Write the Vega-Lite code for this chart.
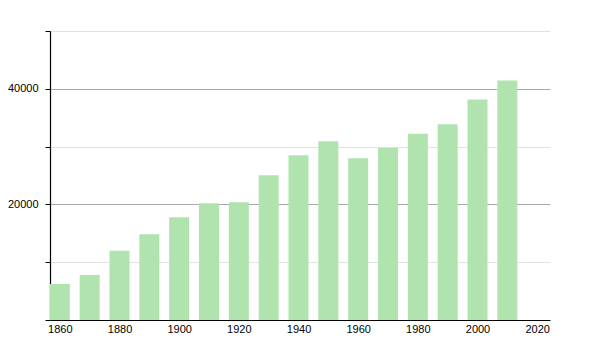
{
  "$schema": "https://vega.github.io/schema/vega-lite/v6.json",
  "width": 500,
  "height": 289,
  "autosize": {"type": "none"},
  "padding": {"left": 50, "top": 31, "right": 50, "bottom": 30},
  "background": "white",
  "data": {
    "values": [
      {"year": 1860, "population": 6220},
      {"year": 1870, "population": 7770},
      {"year": 1880, "population": 11970},
      {"year": 1890, "population": 14850},
      {"year": 1900, "population": 17790},
      {"year": 1910, "population": 20200},
      {"year": 1920, "population": 20380},
      {"year": 1930, "population": 25040},
      {"year": 1940, "population": 28500},
      {"year": 1950, "population": 30920},
      {"year": 1960, "population": 27980},
      {"year": 1970, "population": 29760},
      {"year": 1980, "population": 32240},
      {"year": 1990, "population": 33850},
      {"year": 2000, "population": 38170},
      {"year": 2010, "population": 41450}
    ]
  },
  "config": {
    "view": {"stroke": null},
    "axis": {"labelFont": "Liberation Sans", "labelFontSize": 11, "labelColor": "#000", "domainColor": "#000"}
  },
  "mark": {"type": "bar", "size": 20, "color": "#b1e3ae"},
  "encoding": {
    "x": {
      "field": "year",
      "type": "quantitative",
      "scale": {"domain": [1856.7, 2024.3], "nice": false, "zero": false, "padding": 0},
      "axis": {
        "title": null,
        "values": [1860, 1880, 1900, 1920, 1940, 1960, 1980, 2000, 2020],
        "format": "d",
        "ticks": false,
        "grid": false,
        "labelPadding": 3,
        "domainWidth": 1.2
      }
    },
    "y": {
      "field": "population",
      "type": "quantitative",
      "scale": {"domain": [0, 50000], "nice": false, "padding": 0},
      "axis": {
        "title": null,
        "values": [0, 10000, 20000, 30000, 40000, 50000],
        "labelExpr": "datum.value > 0 && datum.value % 20000 === 0 ? format(datum.value, 'd') : ''",
        "gridColor": {"condition": {"test": "datum.value % 20000 === 0 && datum.value > 0", "value": "#a8a8a8"}, "value": "#e3e3e3"},
        "tickColor": "#000",
        "tickSize": 5,
        "labelPadding": 7,
        "domainWidth": 1.2
      }
    }
  }
}
